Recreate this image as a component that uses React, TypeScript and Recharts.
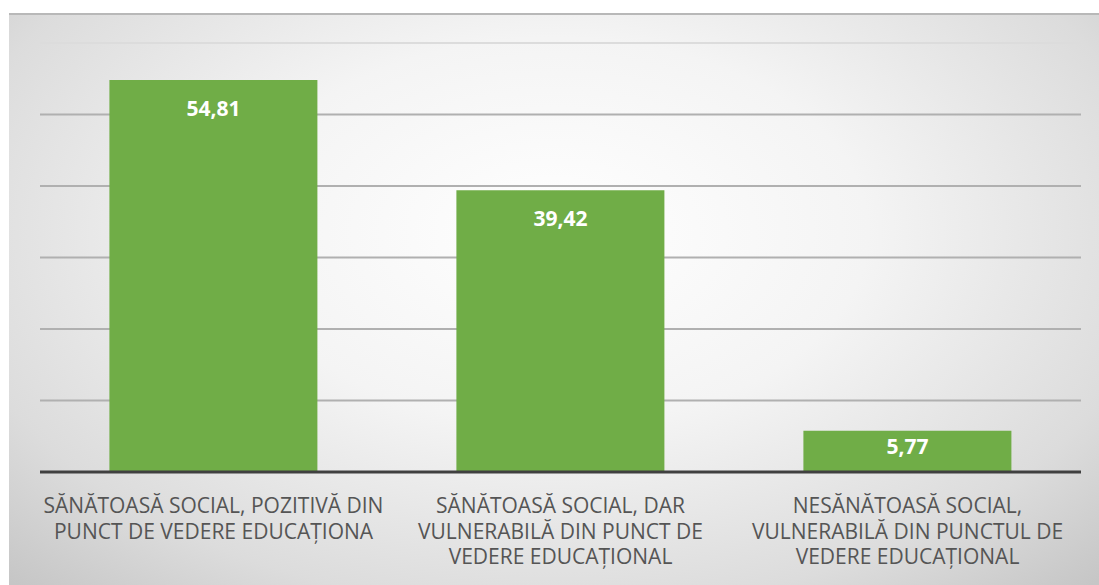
import React from "react";
import { BarChart, Bar, XAxis, YAxis, CartesianGrid, LabelList } from "recharts";

const categories = [
  "SĂNĂTOASĂ SOCIAL, POZITIVĂ DIN\nPUNCT DE VEDERE EDUCAȚIONA",
  "SĂNĂTOASĂ SOCIAL, DAR\nVULNERABILĂ DIN PUNCT DE\nVEDERE EDUCAȚIONAL",
  "NESĂNĂTOASĂ SOCIAL,\nVULNERABILĂ DIN PUNCTUL DE\nVEDERE EDUCAȚIONAL",
];
const values = [54.81, 39.42, 5.77];
const valueLabels = ["54,81", "39,42", "5,77"];
const yTicks = [0, 10, 20, 30, 40, 50, 60];

const data = categories.map((c, i) => ({ name: c, value: values[i], label: valueLabels[i] }));

const FONT = "'Open Sans', 'Noto Sans', sans-serif";

const CategoryTick = (props: any) => {
  const { x, y, payload } = props;
  const lines = String(payload.value).split("\n");
  return (
    <text x={x} y={y} textAnchor="middle" fill="#555555" fontFamily={FONT} fontSize={21}>
      {lines.map((l, i) => (
        <tspan key={i} x={x} dy={i === 0 ? 41 : 25.5}>
          {l}
        </tspan>
      ))}
    </text>
  );
};

const ValueLabel = (props: any) => {
  const { x, y, width, height, index } = props;
  const cy = y + Math.min(28, height / 2 - 5);
  return (
    <text
      x={x + width / 2}
      y={cy}
      dy={7.5}
      textAnchor="middle"
      fill="#ffffff"
      fontFamily={FONT}
      fontWeight={700}
      fontSize={21}
    >
      {valueLabels[index]}
    </text>
  );
};

const GridLine = (props: any) => {
  const { x1, x2, y1, y2, index } = props;
  const isTop = index === 0 || Math.round(y1) <= 31;
  return (
    <line
      x1={x1}
      x2={x2}
      y1={y1}
      y2={y2}
      stroke={isTop ? "#dcdcdc" : "#b0b0b0"}
      strokeWidth={isTop ? 2 : 1.8}
    />
  );
};

export default function App() {
  return (
    <div
      style={{
        position: "absolute",
        left: 9,
        top: 13,
        width: 1090,
        height: 572,
        background:
          "radial-gradient(ellipse 72% 85% at 50% 38%, #ffffff 0%, #f4f4f4 40%, #dcdcdc 78%, #c6c6c6 100%)",
        borderTop: "2px solid #b8b8b8",
        boxSizing: "border-box",
      }}
    >
      <BarChart
        width={1090}
        height={570}
        data={data}
        margin={{ top: 28, right: 18, left: 31, bottom: 0 }}
        barCategoryGap="20%"
      >
        <CartesianGrid vertical={false} horizontal={(p: any) => <GridLine {...p} />} />
        <YAxis hide domain={[0, 60]} ticks={yTicks} />
        <XAxis
          dataKey="name"
          height={113}
          tickLine={false}
          tickSize={0}
          tickMargin={0}
          axisLine={{ stroke: "#404040", strokeWidth: 3 }}
          tick={<CategoryTick />}
          interval={0}
        />
        <Bar dataKey="value" fill="#70AD47" isAnimationActive={false}>
          <LabelList dataKey="label" content={<ValueLabel />} />
        </Bar>
      </BarChart>
    </div>
  );
}
